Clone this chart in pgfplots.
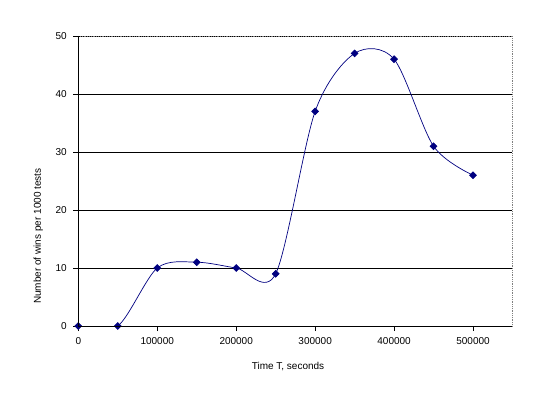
\documentclass[border=0pt]{standalone}
\usepackage{fontspec}
\setmainfont{Liberation Sans}
\usepackage{pgfplots}
\pgfplotsset{compat=1.18}
\definecolor{navy}{HTML}{000080}
\begin{document}
\begin{tikzpicture}
\begin{axis}[
  scale only axis,
  width=434.2bp, height=290bp,
  xmin=0, xmax=550000, ymin=0, ymax=50,
  xtick={0,100000,200000,300000,400000,500000},
  xticklabels={0,100000,200000,300000,400000,500000},
  ytick={0,10,20,30,40,50},
  scaled x ticks=false,
  /pgf/number format/assume math mode=true,
  font=\fontsize{10bp}{12bp}\selectfont,
  axis line style={draw=none},
  tick style={black, line width=0.8bp},
  tick align=outside,
  major tick length=5bp,
  xtick pos=bottom, ytick pos=left,
  ymajorgrids,
  major grid style={black, line width=0.8bp},
  yticklabel style={xshift=-3bp},
  xticklabel style={yshift=-3bp},
  xlabel={Time T, seconds},
  ylabel={Number of wins per 1000 tests},
  xlabel style={at={(rel axis cs:0.483,0)}, anchor=center, yshift=-41bp},
  ylabel style={at={(rel axis cs:0,0.31)}, anchor=center, yshift=40bp},
]
\addplot[navy, line width=0.7bp, smooth, mark=square*, mark size=2.4bp, mark options={navy, fill=navy, rotate=45}]
coordinates {(0,0) (50000,0) (100000,10) (150000,11) (200000,10) (250000,9) (300000,37) (350000,47) (400000,46) (450000,31) (500000,26)};
\coordinate (sw) at (rel axis cs:0,0);
\coordinate (ne) at (rel axis cs:1,1);
\end{axis}
\draw[gray, densely dotted, line width=0.8bp] (sw |- ne) -- (ne) -- (ne |- sw);
\draw[black, line width=0.8bp] (sw |- ne) -- (sw) -- (ne |- sw);
\useasboundingbox (sw) ++(-78.3bp,-73bp) rectangle ++(549bp,399bp);
\end{tikzpicture}
\end{document}
